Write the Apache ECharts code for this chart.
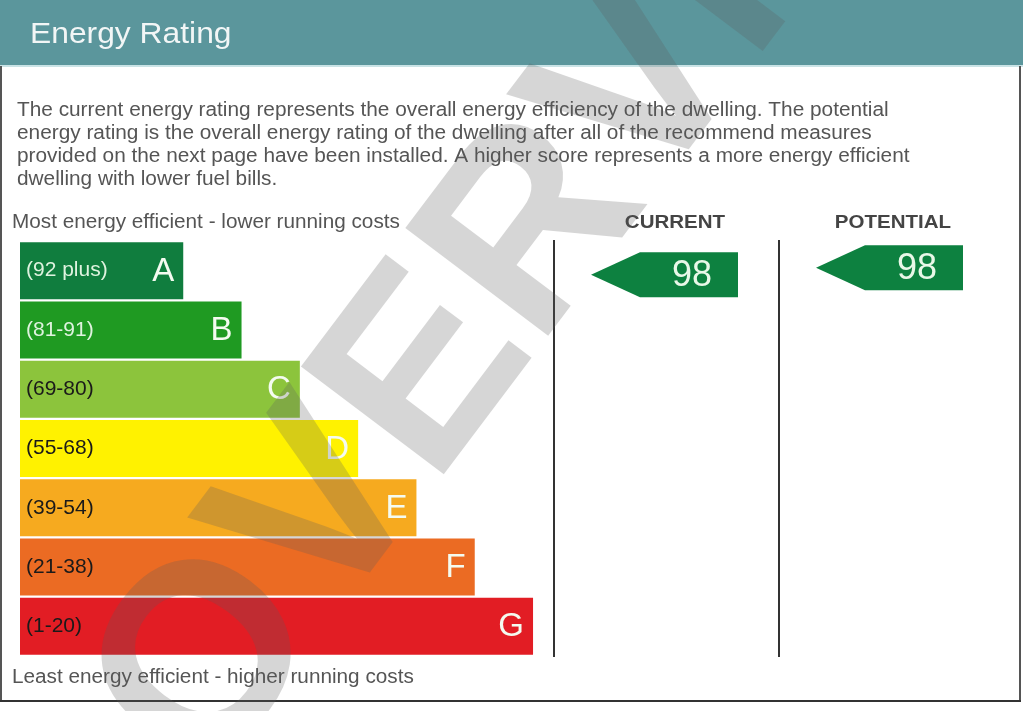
<!DOCTYPE html>
<html>
<head>
<meta charset="utf-8">
<style>
html,body{margin:0;padding:0;background:#fff;}
#chart{width:1023px;height:711px;}
</style>
<script src="https://cdn.jsdelivr.net/npm/echarts@6/dist/echarts.min.js"></script>
</head>
<body>
<div id="chart"></div>
<script>
const title = 'Energy Rating';
const paragraph = [
  'The current energy rating represents the overall energy efficiency of the dwelling. The potential',
  'energy rating is the overall energy rating of the dwelling after all of the recommend measures',
  'provided on the next page have been installed. A higher score represents a more energy efficient',
  'dwelling with lower fuel bills.'
];
const topNote = 'Most energy efficient - lower running costs';
const bottomNote = 'Least energy efficient - higher running costs';
const bands = ['A', 'B', 'C', 'D', 'E', 'F', 'G'];
const ranges = ['(92 plus)', '(81-91)', '(69-80)', '(55-68)', '(39-54)', '(21-38)', '(1-20)'];
const barLengths = [28, 38, 48, 58, 68, 78, 88];
const bandColors = ['#107d3e', '#1f9a22', '#8cc43c', '#fff200', '#f6aa1f', '#eb6b23', '#e21d24'];
const rangeTextColors = ['#dff3df', '#dff3df', '#1a1a1a', '#1a1a1a', '#1a1a1a', '#1a1a1a', '#1a1a1a'];
const columns = ['CURRENT', 'POTENTIAL'];
const currentRating = 98, currentBand = 'A';
const potentialRating = 98, potentialBand = 'A';
const watermark = 'OVERVIEW';

const FONT = '"Liberation Sans", Arial, sans-serif';
const chart = echarts.init(document.getElementById('chart'));

function arrowSeries(gridIndex, rating, band, dy, color) {
  return {
    type: 'custom',
    xAxisIndex: gridIndex, yAxisIndex: gridIndex,
    z: 5,
    data: [[0, band, rating]],
    renderItem: function (params, api) {
      const cs = params.coordSys;
      const cy = api.coord([0, api.value(1)])[1] + dy;
      const h = 45;
      const tip = cs.x + 36, bodyL = cs.x + 85, bodyR = cs.x + 183;
      return {
        type: 'group',
        children: [
          { type: 'polygon', shape: { points: [[tip, cy], [bodyL, cy - h / 2], [bodyR, cy - h / 2], [bodyR, cy + h / 2], [bodyL, cy + h / 2]] }, style: { fill: color } },
          { type: 'text', x: (bodyL + bodyR) / 2 + 3, y: cy + 1, style: { text: String(api.value(2)), font: '36px ' + FONT, fill: '#e8f8e8', align: 'center', verticalAlign: 'middle' } }
        ]
      };
    }
  };
}

const catAxis = (gi) => ({ type: 'category', gridIndex: gi, data: bands, inverse: true, show: false });
const valAxis = (gi, max) => ({ type: 'value', gridIndex: gi, min: 0, max: max, show: false });

const txt = (x, y, text, font, fill, extra) => Object.assign({ type: 'text', x: x, y: y, z: 1, style: { text: text, font: font, fill: fill, verticalAlign: 'middle' } }, extra || {});

const option = {
  animation: false,
  backgroundColor: '#fff',
  grid: [
    { left: 20, top: 241, width: 583, height: 415 },
    { left: 555, top: 241, width: 224, height: 415 },
    { left: 780, top: 241, width: 224, height: 415 }
  ],
  xAxis: [valAxis(0, 100), valAxis(1, 1), valAxis(2, 1)],
  yAxis: [catAxis(0), catAxis(1), catAxis(2)],
  series: [
    {
      type: 'bar',
      xAxisIndex: 0, yAxisIndex: 0,
      barWidth: 57,
      data: barLengths.map((v, i) => ({ value: v, itemStyle: { color: bandColors[i] }, label: { color: rangeTextColors[i] } })),
      label: {
        show: true, position: 'insideLeft', distance: 6,
        formatter: p => ranges[p.dataIndex],
        fontFamily: FONT, fontSize: 21
      }
    },
    {
      type: 'custom',
      xAxisIndex: 0, yAxisIndex: 0,
      z: 5,
      data: barLengths.map((v, i) => [v, i]),
      renderItem: function (params, api) {
        const i = api.value(1);
        const p = api.coord([api.value(0), i]);
        return { type: 'text', x: p[0] - 9, y: p[1] + 1, style: { text: bands[i], font: '33px ' + FONT, fill: '#f4fbf0', align: 'right', verticalAlign: 'middle' } };
      }
    },
    arrowSeries(1, currentRating, currentBand, 4, '#0d8140'),
    arrowSeries(2, potentialRating, potentialBand, -3, '#0d8140')
  ],
  graphic: [
    { type: 'rect', shape: { x: 0, y: 0, width: 1023, height: 66 }, style: { fill: '#5b969c' }, z: 0 },
    { type: 'rect', shape: { x: 0, y: 65, width: 1023, height: 2 }, style: { fill: '#c9e3e6' }, z: 0 },
    txt(30, 35, title, '30px ' + FONT, '#f2f6f6', { scaleX: 1.06 }),
    { type: 'rect', shape: { x: 0, y: 66, width: 2, height: 635 }, style: { fill: '#555' }, z: 1 },
    { type: 'rect', shape: { x: 1019, y: 66, width: 2, height: 635 }, style: { fill: '#555' }, z: 1 },
    { type: 'rect', shape: { x: 0, y: 700, width: 1021, height: 2 }, style: { fill: '#333' }, z: 1 },
    ...paragraph.map((t, i) => txt(17, 111 + i * 23, t, '19.5px ' + FONT, '#555', { scaleX: 1.067 })),
    txt(12, 223, topNote, '19.5px ' + FONT, '#555', { scaleX: 1.063 }),
    txt(12, 678, bottomNote, '19.5px ' + FONT, '#555', { scaleX: 1.063 }),
    { type: 'text', x: 675, y: 223, z: 1, scaleX: 1.14, style: { text: columns[0], font: 'bold 18px ' + FONT, fill: '#444', align: 'center', verticalAlign: 'middle' } },
    { type: 'text', x: 893, y: 223, z: 1, scaleX: 1.14, style: { text: columns[1], font: 'bold 18px ' + FONT, fill: '#444', align: 'center', verticalAlign: 'middle' } },
    { type: 'rect', shape: { x: 553, y: 240, width: 2, height: 417 }, style: { fill: '#333' }, z: 1 },
    { type: 'rect', shape: { x: 778, y: 240, width: 2, height: 417 }, style: { fill: '#333' }, z: 1 },
    { type: 'text', x: 150, y: 745, rotation: 53 * Math.PI / 180, z: 100, style: { text: watermark, font: 'bold 260px ' + FONT, fill: 'rgba(90,90,90,0.25)', align: 'left', verticalAlign: 'middle' } }
  ]
};
chart.setOption(option);
</script>
</body>
</html>
